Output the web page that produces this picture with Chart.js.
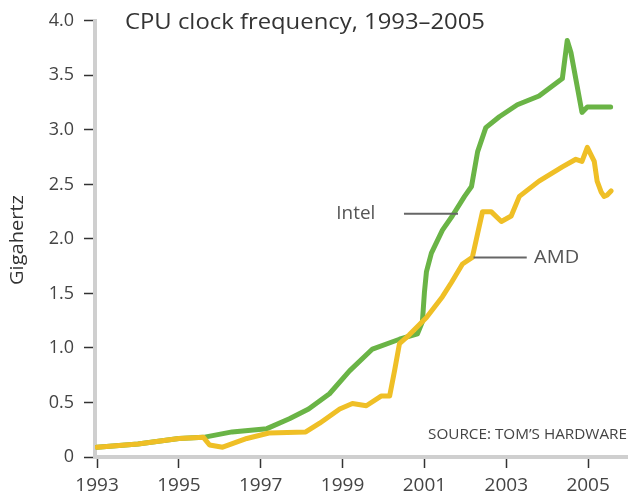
<!DOCTYPE html>
<html>
<head>
<meta charset="utf-8">
<script src="https://cdn.jsdelivr.net/npm/chart.js@4/dist/chart.umd.min.js"></script>
<style>
  html, body { margin: 0; padding: 0; background: #fff; }
  #wrap { width: 629px; height: 495px; position: relative; }
</style>
</head>
<body>
<div id="wrap"><canvas id="lineChart"></canvas></div>
<script>
const titleText = 'CPU clock frequency, 1993\u20132005';
const yTitle = 'Gigahertz';
const sourceText = 'SOURCE: TOM\u2019S HARDWARE';

const xTicks = [1993, 1995, 1997, 1999, 2001, 2003, 2005];
const yTicks = [0, 0.5, 1.0, 1.5, 2.0, 2.5, 3.0, 3.5, 4.0];

const intelYears = [1993, 1994, 1995, 1995.6, 1996.3, 1997.15, 1997.7, 1998.17, 1998.68, 1999.17,
    1999.73, 2000.39, 2000.83, 2000.95, 2001.0, 2001.05, 2001.17, 2001.44, 2001.68, 2001.98,
    2002.15, 2002.3, 2002.5, 2002.83, 2003.27, 2003.8, 2004.37, 2004.49, 2004.58, 2004.85,
    2004.98, 2005.55];
const intelGhz = [0.09, 0.12, 0.17, 0.18, 0.23, 0.26, 0.35, 0.44, 0.58, 0.79,
    0.99, 1.08, 1.13, 1.24, 1.51, 1.70, 1.87, 2.08, 2.21, 2.39,
    2.48, 2.80, 3.02, 3.12, 3.23, 3.31, 3.47, 3.82, 3.71, 3.16,
    3.21, 3.21];

const amdYears = [1993, 1994, 1995, 1995.6, 1995.75, 1996.07, 1996.66, 1997.2, 1998.1, 1998.44,
    1998.93, 1999.24, 1999.58, 1999.95, 2000.15, 2000.27, 2000.39, 2000.63, 2001.05, 2001.44,
    2001.66, 2001.93, 2002.17, 2002.3, 2002.42, 2002.63, 2002.88, 2003.12, 2003.32, 2003.8,
    2004.37, 2004.7, 2004.85, 2004.98, 2005.15, 2005.22, 2005.32, 2005.39, 2005.46, 2005.56];
const amdGhz = [0.09, 0.12, 0.17, 0.18, 0.11, 0.09, 0.17, 0.22, 0.23, 0.31,
    0.44, 0.49, 0.47, 0.56, 0.56, 0.79, 1.04, 1.12, 1.28, 1.47,
    1.60, 1.77, 1.83, 2.05, 2.25, 2.25, 2.16, 2.21, 2.39, 2.53,
    2.66, 2.73, 2.71, 2.84, 2.71, 2.53, 2.43, 2.39, 2.40, 2.44];

// label anchors in data units: [textX, y, lineFrom, lineTo]
const intelLabel = [1999.8, 2.23, 2000.5, 2001.82];
const amdLabel = [2003.68, 1.83, 2002.2, 2003.5];

const GREEN = '#6ab446';
const YELLOW = '#efbf26';
const FONT = '"Open Sans", sans-serif';

const toPoints = (xs, ys) => xs.map((x, i) => ({ x: x, y: ys[i] }));

// the original face is wider than Open Sans, so stretch text to its measured width
function fillWide(ctx, text, x, y, width, align) {
    const w = ctx.measureText(text).width;
    const k = width / w;
    let left = x;
    if (align === 'right') left = x - width;
    if (align === 'center') left = x - width / 2;
    ctx.save();
    ctx.textAlign = 'left';
    ctx.translate(left, y);
    ctx.scale(k, 1);
    ctx.fillText(text, 0, 0);
    ctx.restore();
}

const textPlugin = {
    id: 'textPlugin',
    afterDraw(chart) {
        const ctx = chart.ctx;
        const xs = chart.scales.x;
        const ys = chart.scales.y;
        ctx.save();
        ctx.textBaseline = 'middle';

        // title
        ctx.fillStyle = '#333';
        ctx.font = '21px ' + FONT;
        fillWide(ctx, titleText, 125, 23, 360, 'left');

        // y axis title
        ctx.save();
        ctx.translate(18, 240);
        ctx.rotate(-Math.PI / 2);
        ctx.font = '19px ' + FONT;
        ctx.fillStyle = '#333';
        fillWide(ctx, yTitle, 0, 0, 90, 'center');
        ctx.restore();

        // source
        ctx.font = '14px ' + FONT;
        ctx.fillStyle = '#444';
        fillWide(ctx, sourceText, 627, 435, 199, 'right');

        // series labels with leader lines
        ctx.strokeStyle = '#666';
        ctx.lineWidth = 2;
        ctx.font = '18px ' + FONT;
        ctx.fillStyle = '#555';

        let y = ys.getPixelForValue(intelLabel[1]);
        fillWide(ctx, 'Intel', xs.getPixelForValue(intelLabel[0]), y, 39, 'right');
        ctx.beginPath();
        ctx.moveTo(xs.getPixelForValue(intelLabel[2]), y);
        ctx.lineTo(xs.getPixelForValue(intelLabel[3]), y);
        ctx.stroke();

        y = ys.getPixelForValue(amdLabel[1]);
        fillWide(ctx, 'AMD', xs.getPixelForValue(amdLabel[0]), y, 45, 'left');
        ctx.beginPath();
        ctx.moveTo(xs.getPixelForValue(amdLabel[2]), y);
        ctx.lineTo(xs.getPixelForValue(amdLabel[3]), y);
        ctx.stroke();

        ctx.restore();
    }
};

const ctx = document.getElementById('lineChart').getContext('2d');
new Chart(ctx, {
    type: 'line',
    data: {
        datasets: [{
            label: 'AMD',
            data: toPoints(amdYears, amdGhz),
            borderColor: YELLOW,
            borderWidth: 5,
            pointRadius: 0,
            tension: 0,
            borderJoinStyle: 'round',
            borderCapStyle: 'round'
        }, {
            label: 'Intel',
            data: toPoints(intelYears, intelGhz),
            borderColor: GREEN,
            borderWidth: 5,
            pointRadius: 0,
            tension: 0,
            borderJoinStyle: 'round',
            borderCapStyle: 'round'
        }]
    },
    options: {
        responsive: true,
        maintainAspectRatio: false,
        animation: false,
        layout: { padding: { top: 16, right: 2, left: 0, bottom: 0 } },
        plugins: {
            legend: { display: false },
            tooltip: { enabled: false },
            title: { display: false }
        },
        scales: {
            x: {
                type: 'linear',
                min: 1992.95,
                max: 2005.95,
                afterBuildTicks: (scale) => { scale.ticks = xTicks.map(v => ({ value: v })); },
                afterFit: (scale) => { scale.height = 38; },
                border: { display: true, color: '#cfcfcf', width: 4 },
                grid: { drawOnChartArea: false, drawTicks: true, tickLength: 11, tickColor: '#333', tickWidth: 1.5 },
                ticks: {
                    color: '#444',
                    font: { family: FONT, size: 19 },
                    padding: 6,
                    maxRotation: 0,
                    autoSkip: false,
                    callback: (v) => String(v)
                }
            },
            y: {
                min: 0,
                max: 4,
                afterBuildTicks: (scale) => { scale.ticks = yTicks.map(v => ({ value: v })); },
                afterFit: (scale) => { scale.width = 95; },
                border: { display: true, color: '#cfcfcf', width: 4 },
                grid: { drawOnChartArea: false, drawTicks: true, tickLength: 11, tickColor: '#333', tickWidth: 1.5 },
                ticks: {
                    color: '#444',
                    font: { family: FONT, size: 18 },
                    padding: 10,
                    callback: (v) => v === 0 ? '0' : v.toFixed(1)
                }
            }
        }
    },
    plugins: [textPlugin]
});
</script>
</body>
</html>
